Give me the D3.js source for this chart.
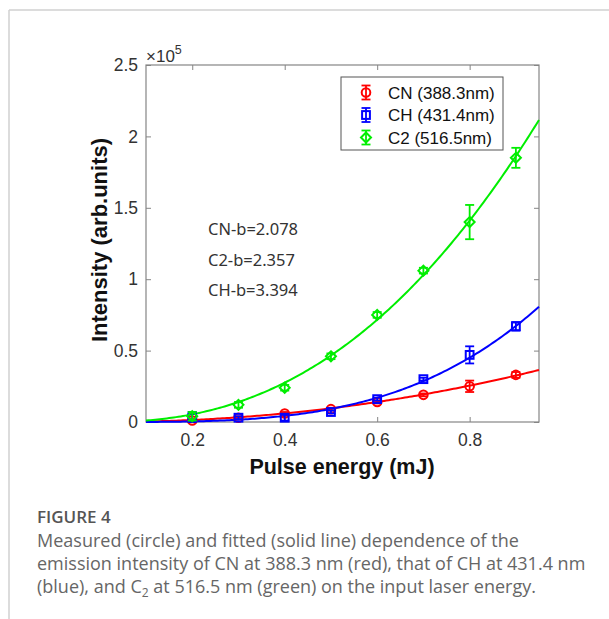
<!DOCTYPE html>
<html lang="en">
<head>
  <meta charset="utf-8">
  <title>Figure 4</title>
  <script src="https://d3js.org/d3.v7.min.js"></script>
  <style>
    body { margin: 0; background: #fff; }
    svg { display: block; }
  </style>
</head>
<body>
<script>
  // data (intensity in units of 1e5)
  var energy = [0.2, 0.3, 0.4, 0.5, 0.6, 0.7, 0.8, 0.9];
  var cnVals = [0.01, 0.03, 0.06, 0.09, 0.14, 0.19, 0.25, 0.33];
  var cnErr  = [0.01, 0.01, 0.01, 0.01, 0.01, 0.01, 0.04, 0.02];
  var chVals = [0.03, 0.03, 0.03, 0.07, 0.16, 0.30, 0.47, 0.67];
  var chErr  = [0.04, 0.01, 0.02, 0.01, 0.01, 0.01, 0.06, 0.03];
  var c2Vals = [0.04, 0.12, 0.24, 0.46, 0.75, 1.06, 1.40, 1.85];
  var c2Err  = [0.03, 0.02, 0.02, 0.02, 0.02, 0.02, 0.12, 0.07];

  // power-law fits y = a * x^b
  var fitA = [0.405, 0.961, 2.387];
  var fitB = [2.078, 3.394, 2.357];

  var names = ["CN (388.3nm)", "CH (431.4nm)", "C2 (516.5nm)"];
  var colors = ["#ff0000", "#0000ff", "#00ee00"];
  var shapes = ["circle", "square", "diamond"];
  var notes = ["CN-b=2.078", "C2-b=2.357", "CH-b=3.394"];

  var xTicks = [0.2, 0.4, 0.6, 0.8];
  var yTicks = [0, 0.5, 1, 1.5, 2, 2.5];

  var width = 609, height = 619;
  var svg = d3.select("body").append("svg")
      .attr("width", width).attr("height", height);

  // page frame
  svg.append("line").attr("x1", 9).attr("x2", 609).attr("y1", 10).attr("y2", 10)
      .attr("stroke", "#d0d0d0").attr("stroke-width", 1.5);
  svg.append("line").attr("x1", 9).attr("x2", 9).attr("y1", 10).attr("y2", 619)
      .attr("stroke", "#d0d0d0").attr("stroke-width", 1.5);

  // plot box (window.top is reserved, so use other names)
  var pL = 146, pR = 539, pT = 65, pB = 422;

  var x = d3.scaleLinear().domain([0.1, 0.95]).range([pL, pR]);
  var y = d3.scaleLinear().domain([0, 2.5]).range([pB, pT]);

  var axisColor = "#858585";
  var font = "Arial, 'Liberation Sans', sans-serif";

  // axes with inward ticks on all four sides
  function styleAxis(g) {
    g.select(".domain").remove();
    g.selectAll(".tick line").attr("stroke", axisColor);
    g.selectAll(".tick text").attr("fill", "#333").attr("font-family", font).attr("font-size", 17.5);
  }
  svg.append("g").attr("transform", "translate(0," + pB + ")")
      .call(d3.axisBottom(x).tickValues(xTicks).tickSize(-5).tickPadding(12).tickFormat(d3.format(".1f")))
      .call(styleAxis);
  svg.append("g").attr("transform", "translate(0," + pT + ")")
      .call(d3.axisTop(x).tickValues(xTicks).tickSize(-5).tickFormat(""))
      .call(styleAxis);
  svg.append("g").attr("transform", "translate(" + pL + ",0)")
      .call(d3.axisLeft(y).tickValues(yTicks).tickSize(-5).tickPadding(8).tickFormat(function(d) { return d; }))
      .call(styleAxis);
  svg.append("g").attr("transform", "translate(" + pR + ",0)")
      .call(d3.axisRight(y).tickValues(yTicks).tickSize(-5).tickFormat(""))
      .call(styleAxis);

  svg.append("rect").attr("x", pL).attr("y", pT)
      .attr("width", pR - pL).attr("height", pB - pT)
      .attr("fill", "none").attr("stroke", axisColor).attr("stroke-width", 1.2);

  // exponent label
  var ex = svg.append("text").attr("x", pL).attr("y", 62)
      .attr("font-family", font).attr("font-size", 17).attr("fill", "#333");
  ex.append("tspan").text("\u00d710");
  ex.append("tspan").attr("dy", -8).attr("font-size", 12.5).text("5");

  // axis titles
  svg.append("text").attr("x", 342).attr("y", 474).attr("text-anchor", "middle")
      .attr("font-family", font).attr("font-weight", "bold").attr("font-size", 21.5)
      .attr("fill", "#111").text("Pulse energy (mJ)");
  svg.append("text").attr("transform", "translate(107,240) rotate(-90)")
      .attr("text-anchor", "middle")
      .attr("font-family", font).attr("font-weight", "bold").attr("font-size", 22)
      .attr("fill", "#111").text("Intensity (arb.units)");

  // fitted curves
  var plot = svg.append("g");
  var xs = d3.range(0.1, 0.9501, 0.005);
  fitA.forEach(function(a, i) {
    plot.append("path")
        .datum(xs)
        .attr("fill", "none")
        .attr("stroke", colors[i])
        .attr("stroke-width", 2)
        .attr("d", d3.line().x(function(d) { return x(d); })
          .y(function(d) { return y(a * Math.pow(d, fitB[i])); }));
  });

  function marker(g, shape, color, cx, cy) {
    if (shape == "circle") {
      g.append("circle").attr("cx", cx).attr("cy", cy).attr("r", 4.3)
        .attr("fill", "none").attr("stroke", color).attr("stroke-width", 2);
    } else if (shape == "square") {
      g.append("rect").attr("x", cx - 3.9).attr("y", cy - 3.9).attr("width", 7.8).attr("height", 7.8)
        .attr("fill", "none").attr("stroke", color).attr("stroke-width", 2);
    } else {
      g.append("path").attr("d", "M" + cx + "," + (cy - 5) + "L" + (cx + 5) + "," + cy +
          "L" + cx + "," + (cy + 5) + "L" + (cx - 5) + "," + cy + "Z")
        .attr("fill", "none").attr("stroke", color).attr("stroke-width", 2);
    }
  }

  function errorBar(g, color, cx, y1, y2) {
    g.append("line").attr("x1", cx).attr("x2", cx).attr("y1", y1).attr("y2", y2)
      .attr("stroke", color).attr("stroke-width", 1.8);
    [y1, y2].forEach(function(yy) {
      g.append("line").attr("x1", cx - 4.5).attr("x2", cx + 4.5).attr("y1", yy).attr("y2", yy)
        .attr("stroke", color).attr("stroke-width", 1.8);
    });
  }

  var series = [[cnVals, cnErr], [chVals, chErr], [c2Vals, c2Err]];
  series.forEach(function(s, i) {
    var g = plot.append("g");
    energy.forEach(function(e, j) {
      var v = s[0][j], er = s[1][j];
      errorBar(g, colors[i], x(e), y(v + er), y(Math.max(0, v - er)));
      marker(g, shapes[i], colors[i], x(e), y(v));
    });
  });

  // fit exponent notes
  notes.forEach(function(t, i) {
    svg.append("text").attr("x", 208).attr("y", 235 + i * 30.5)
      .attr("font-family", "'Noto Sans', sans-serif").attr("font-size", 16.5).attr("fill", "#333")
      .text(t);
  });

  // legend
  var lg = svg.append("g");
  lg.append("rect").attr("x", 341).attr("y", 77).attr("width", 162).attr("height", 73)
    .attr("fill", "#fff").attr("stroke", "#555").attr("stroke-width", 1);
  names.forEach(function(n, i) {
    var cy = 92.5 + i * 22.5;
    errorBar(lg, colors[i], 366, cy - 7, cy + 7);
    marker(lg, shapes[i], colors[i], 366, cy);
    lg.append("text").attr("x", 388).attr("y", cy + 6)
      .attr("font-family", font).attr("font-size", 17).attr("fill", "#111").text(n);
  });

  // caption
  var capFont = "'Open Sans', 'Noto Sans', sans-serif";
  svg.append("text").attr("x", 37).attr("y", 523)
    .attr("font-family", capFont).attr("font-size", 17).attr("font-weight", 600)
    .attr("fill", "#555").text("FIGURE 4");
  var cap1 = "Measured (circle) and fitted (solid line) dependence of the";
  var cap2 = "emission intensity of CN at 388.3 nm (red), that of CH at 431.4 nm";
  [cap1, cap2].forEach(function(t, i) {
    svg.append("text").attr("x", 37).attr("y", 547 + i * 23)
      .attr("font-family", capFont).attr("font-size", 18).attr("fill", "#666").text(t);
  });
  var c3 = svg.append("text").attr("x", 37).attr("y", 593)
    .attr("font-family", capFont).attr("font-size", 18).attr("fill", "#666");
  c3.append("tspan").text("(blue), and C");
  c3.append("tspan").attr("dy", 4).attr("font-size", 12).text("2");
  c3.append("tspan").attr("dy", -4).text(" at 516.5 nm (green) on the input laser energy.");
</script>
</body>
</html>
